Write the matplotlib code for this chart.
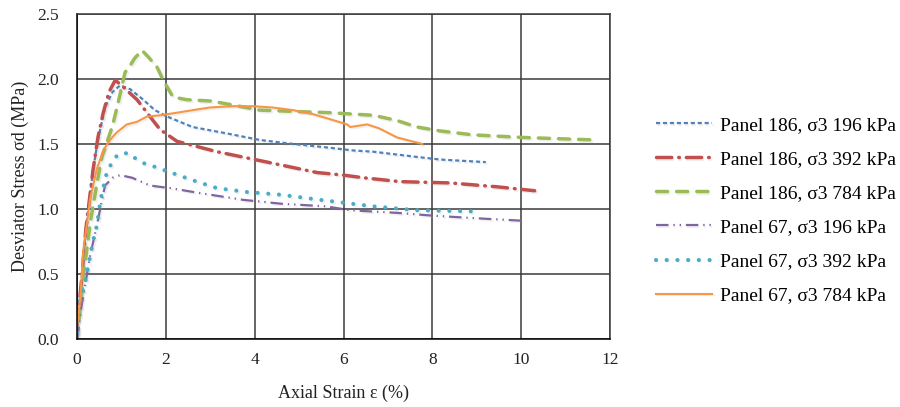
import matplotlib
matplotlib.use("Agg")
import matplotlib.pyplot as plt
import matplotlib.patheffects as pe

plt.rcParams['font.family'] = ['Liberation Serif', 'DejaVu Serif']
plt.rcParams['lines.scale_dashes'] = False

# Panel 186, sigma3 196 kPa
x_186_196 = [0, 0.1, 0.2, 0.36, 0.47, 0.63, 0.8, 0.97, 1.2, 1.49, 1.75, 2.03, 2.6, 3.38,
             4.12, 4.86, 5.7, 6.2, 6.67, 7.65, 8.17, 9.2]
y_186_196 = [0.1, 0.45, 0.85, 1.30, 1.53, 1.78, 1.90, 1.95, 1.92, 1.84, 1.76, 1.71, 1.63, 1.58,
             1.53, 1.50, 1.47, 1.45, 1.44, 1.40, 1.38, 1.36]

# Panel 186, sigma3 392 kPa
x_186_392 = [0, 0.1, 0.2, 0.36, 0.47, 0.59, 0.72, 0.86, 1.0, 1.35, 1.71, 1.87, 2.25, 3.15,
             4.28, 5.4, 6.0, 6.44, 7.27, 8.4, 9.46, 10.3]
y_186_392 = [0.1, 0.45, 0.85, 1.30, 1.55, 1.74, 1.90, 1.99, 1.95, 1.84, 1.68, 1.61, 1.52, 1.44,
             1.36, 1.28, 1.26, 1.24, 1.21, 1.20, 1.17, 1.14]

# Panel 186, sigma3 784 kPa
x_186_784 = [0, 0.15, 0.3, 0.45, 0.56, 0.79, 0.9, 1.08, 1.19, 1.3, 1.46, 1.6, 1.8, 1.94, 2.16,
             2.47, 3.0, 3.5, 4.1, 4.86, 5.7, 6.67, 7.2, 7.65, 8.17, 8.9, 10.0, 11.7]
y_186_784 = [0.0, 0.5, 0.9, 1.2, 1.40, 1.63, 1.78, 2.05, 2.10, 2.16, 2.22, 2.17, 2.09, 1.99, 1.86,
             1.84, 1.83, 1.80, 1.76, 1.75, 1.74, 1.72, 1.68, 1.63, 1.60, 1.57, 1.55, 1.53]

# Panel 67, sigma3 196 kPa
x_67_196 = [0, 0.1, 0.2, 0.3, 0.45, 0.55, 0.63, 0.8, 0.97, 1.24, 1.64, 2.1, 2.8, 3.74, 4.6,
            5.6, 6.15, 7.2, 7.95, 8.9, 10.0]
y_67_196 = [0.0, 0.25, 0.45, 0.65, 0.88, 1.05, 1.18, 1.24, 1.26, 1.24, 1.18, 1.16, 1.12, 1.07, 1.04,
            1.02, 0.99, 0.97, 0.95, 0.93, 0.91]

# Panel 67, sigma3 392 kPa
x_67_392 = [0, 0.02, 0.18, 0.34, 0.45, 0.52, 0.56, 0.67, 0.79, 0.92, 1.15, 1.35, 1.57, 1.8,
            2.03, 2.61, 3.15, 3.83, 4.57, 5.47, 6.67, 7.65, 9.08]
y_67_392 = [0.05, 0.25, 0.43, 0.72, 0.88, 1.05, 1.12, 1.28, 1.36, 1.42, 1.43, 1.38, 1.34, 1.32,
            1.29, 1.22, 1.16, 1.13, 1.11, 1.07, 1.02, 0.99, 0.98]

# Panel 67, sigma3 784 kPa
x_67_784 = [0, 0.07, 0.14, 0.22, 0.29, 0.44, 0.59, 0.74, 0.9, 1.12, 1.35, 1.57, 1.87, 2.25,
            2.61, 2.99, 3.5, 3.96, 4.4, 4.86, 5.3, 5.6, 6.08, 6.15, 6.53, 6.8, 7.2, 7.77]
y_67_784 = [0.1, 0.3, 0.68, 0.88, 1.07, 1.30, 1.45, 1.53, 1.59, 1.65, 1.67, 1.71, 1.72, 1.74,
            1.76, 1.78, 1.79, 1.79, 1.78, 1.76, 1.73, 1.70, 1.65, 1.63, 1.65, 1.62, 1.55, 1.50]

labels = ['Panel 186, σ3 196 kPa', 'Panel 186, σ3 392 kPa', 'Panel 186, σ3 784 kPa',
          'Panel 67, σ3 196 kPa', 'Panel 67, σ3 392 kPa', 'Panel 67, σ3 784 kPa']

fig = plt.figure(figsize=(9, 4.07), dpi=100)
ax = fig.add_axes([0.0856, 0.167, 0.5924, 0.799])

# soft Excel-like shadow under the data lines
shadow = [pe.SimpleLineShadow(offset=(1.2, -1.2), shadow_color='#999999', alpha=0.15), pe.Normal()]

styles = [
    dict(color='#4F81BD', lw=1.6, dashes=(3, 2)),
    dict(color='#C0504D', lw=2.5, dashes=(11, 5, 0.5, 5), dash_capstyle='round'),
    dict(color='#9BBB59', lw=2.5, dashes=(8, 6.5), dash_capstyle='round'),
    dict(color='#8064A2', lw=1.6, dashes=(9, 3.5, 1, 3.5, 1, 3.5)),
    dict(color='#4BACC6', lw=3.0, dashes=(0.01, 7.7), dash_capstyle='round'),
    dict(color='#F79646', lw=1.5, linestyle='-'),
]
series = [(x_186_196, y_186_196), (x_186_392, y_186_392), (x_186_784, y_186_784),
          (x_67_196, y_67_196), (x_67_392, y_67_392), (x_67_784, y_67_784)]

for (xs, ys), st, lab in zip(series, styles, labels):
    ax.plot(xs, ys, label=lab, path_effects=shadow, **st)

ax.set_xlim(0, 12)
ax.set_ylim(0, 2.5)
ax.set_xticks(range(0, 13, 2))
ax.set_yticks([0, 0.5, 1.0, 1.5, 2.0, 2.5])
ax.set_yticklabels(['0.0', '0.5', '1.0', '1.5', '2.0', '2.5'])
ax.grid(True, color='#3a3a3a', lw=1.1)
ax.set_axisbelow(True)
for s in ax.spines.values():
    s.set_color('#3a3a3a')
    s.set_linewidth(1.1)
ax.spines['left'].set_color('black')
ax.spines['bottom'].set_color('black')
ax.tick_params(axis='y', length=0, pad=13, labelsize=12.5, colors='#222222')
ax.tick_params(axis='x', length=0, pad=9, labelsize=12.5, colors='#222222')

ax.set_xlabel('Axial Strain ε (%)', fontsize=13, color='#222222', labelpad=12)
ax.set_ylabel('Desviator Stress σd (MPa)', fontsize=13, color='#222222', labelpad=6)

fig.legend(loc='center left', bbox_to_anchor=(0.709, 0.483), frameon=False,
           fontsize=14, handlelength=2.9, handletextpad=0.4, labelspacing=0.85)

fig.savefig('out.png', dpi=100)
